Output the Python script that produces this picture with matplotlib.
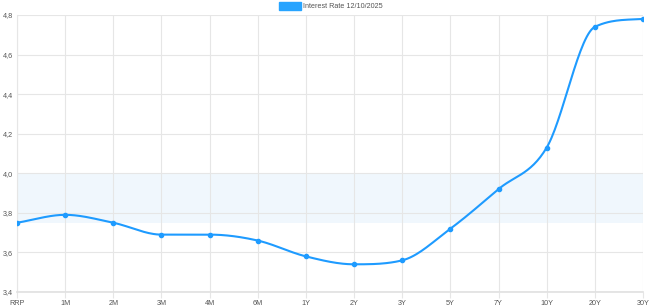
import numpy as np
import matplotlib
matplotlib.use("Agg")
import matplotlib.pyplot as plt
from matplotlib.ticker import FuncFormatter

plt.rcParams["font.family"] = ["Liberation Sans", "DejaVu Sans"]

categories = ["RRP", "1M", "2M", "3M", "4M", "6M", "1Y", "2Y", "3Y", "5Y", "7Y", "10Y", "20Y", "30Y"]
rates = [3.75, 3.79, 3.75, 3.69, 3.69, 3.66, 3.58, 3.54, 3.56, 3.72, 3.92, 4.13, 4.74, 4.78]
band_low, band_high = 3.75, 4.0
series_label = "Interest Rate 12/10/2025"

line_color = "#1e9bff"


def monotone_curve(x, y, n=30):
    x = np.asarray(x, float)
    y = np.asarray(y, float)
    h = np.diff(x)
    d = np.diff(y) / h
    m = np.zeros_like(y)
    m[0], m[-1] = d[0], d[-1]
    for i in range(1, len(y) - 1):
        if d[i - 1] * d[i] <= 0:
            m[i] = 0
        else:
            m[i] = (d[i - 1] + d[i]) / 2
    for i in range(len(d)):
        if d[i] == 0:
            m[i] = m[i + 1] = 0
        else:
            a, b = m[i] / d[i], m[i + 1] / d[i]
            s = a * a + b * b
            if s > 9:
                t = 3 / np.sqrt(s)
                m[i] = t * a * d[i]
                m[i + 1] = t * b * d[i]
    xs, ys = [], []
    for i in range(len(d)):
        t = np.linspace(0, 1, n, endpoint=(i == len(d) - 1))
        h00 = 2 * t**3 - 3 * t**2 + 1
        h10 = t**3 - 2 * t**2 + t
        h01 = -2 * t**3 + 3 * t**2
        h11 = t**3 - t**2
        xs.append(x[i] + t * h[i])
        ys.append(h00 * y[i] + h10 * h[i] * m[i] + h01 * y[i + 1] + h11 * h[i] * m[i + 1])
    return np.concatenate(xs), np.concatenate(ys)


fig = plt.figure(figsize=(6.5, 3.07), dpi=100)
ax = fig.add_axes([17 / 650, 1 - 292 / 307, 626 / 650, 277 / 307])

xpos = np.arange(len(categories))
ax.axhspan(band_low, band_high, color="#f0f7fd", zorder=0, lw=0)
cx, cy = monotone_curve(xpos, rates)
ax.plot(cx, cy, color=line_color, lw=1.5, zorder=3, solid_capstyle="round")
ax.plot(xpos, rates, "o", color=line_color, ms=3, zorder=4)

ax.set_xlim(0, len(categories) - 1)
ax.set_ylim(3.4, 4.8)
ax.set_yticks(np.arange(3.4, 4.81, 0.2))
ax.yaxis.set_major_formatter(FuncFormatter(lambda v, p: f"{v:.1f}".replace(".", ",")))
ax.set_xticks(xpos)
ax.set_xticklabels(categories)
ax.grid(True, color="#e6e6e6", lw=0.8)
ax.set_axisbelow(True)
for s in ["top", "right"]:
    ax.spines[s].set_visible(False)
ax.spines["left"].set_color("#e6e6e6")
ax.spines["bottom"].set_color("#e0e0e0")
ax.spines["bottom"].set_linewidth(1.2)
ax.tick_params(axis="both", labelsize=5.2, colors="#555555", length=0, pad=3)
ax.tick_params(axis="x", length=4, color="#e6e6e6", pad=1.5)

# legend
fig.patches.append(plt.Rectangle((279 / 650, 1 - 10 / 307), 22 / 650, 8 / 307,
                                 transform=fig.transFigure, color="#27a4ff", figure=fig))
fig.text(303 / 650, 1 - 6 / 307, series_label, fontsize=5.2, color="#555555", va="center", ha="left")

fig.savefig("out.png", dpi=100)
